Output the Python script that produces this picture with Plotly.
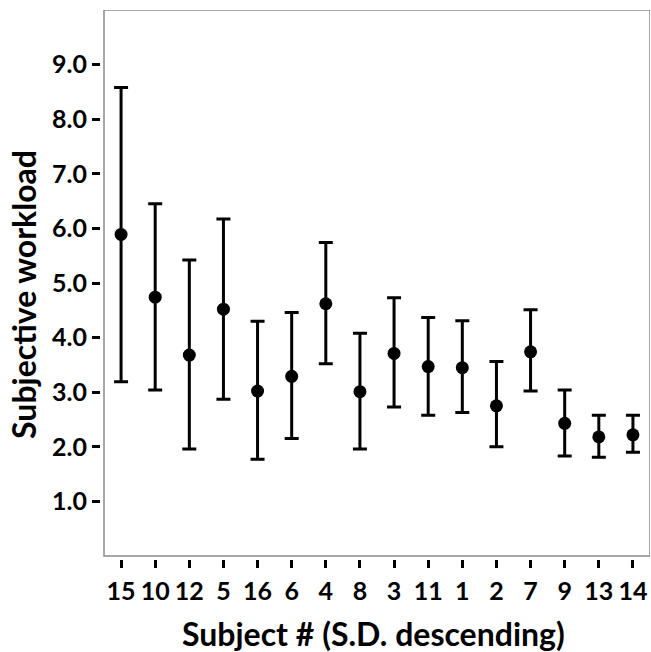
import plotly.graph_objects as go

# Subjects ordered by standard deviation (descending)
subjects = ['15', '10', '12', '5', '16', '6', '4', '8', '3', '11', '1', '2', '7', '9', '13', '14']
mean_workload = [5.89, 4.74, 3.68, 4.52, 3.02, 3.29, 4.62, 3.01, 3.71, 3.47, 3.45, 2.75, 3.74, 2.43, 2.18, 2.22]
upper_bound = [8.58, 6.45, 5.42, 6.17, 4.30, 4.46, 5.74, 4.08, 4.73, 4.37, 4.31, 3.56, 4.51, 3.04, 2.58, 2.58]
lower_bound = [3.19, 3.04, 1.96, 2.87, 1.77, 2.15, 3.52, 1.96, 2.73, 2.58, 2.63, 2.00, 3.02, 1.83, 1.81, 1.90]
y_ticks = [1, 2, 3, 4, 5, 6, 7, 8, 9]

x_pos = list(range(len(subjects)))
err_plus = [u - m for u, m in zip(upper_bound, mean_workload)]
err_minus = [m - l for m, l in zip(mean_workload, lower_bound)]

FONT = 'Lato'

fig = go.Figure()
fig.add_trace(go.Scatter(
    x=x_pos,
    y=mean_workload,
    mode='markers',
    marker=dict(color='black', size=13),
    error_y=dict(
        type='data',
        symmetric=False,
        array=err_plus,
        arrayminus=err_minus,
        color='black',
        thickness=3,
        width=7,
    ),
    showlegend=False,
))

# Grey frame around the data area; ticks sit just outside it
fig.add_shape(
    type='rect', xref='x', yref='y',
    x0=-0.5, x1=15.5, y0=0, y1=10,
    line=dict(color='#8a8a8a', width=1.5),
    layer='below',
)

tick_font = dict(family=FONT, size=25, color='black', weight='bold')
title_font = dict(family=FONT, size=32, color='black', weight='bold')

# Axis titles
fig.add_annotation(
    text='Subject # (S.D. descending)',
    xref='paper', yref='paper', x=0.497, y=0,
    xanchor='center', yanchor='middle', yshift=-74,
    showarrow=False, font=title_font,
)
fig.add_annotation(
    text='Subjective workload',
    xref='paper', yref='paper', x=0, y=0.481,
    xanchor='center', yanchor='middle', xshift=-77,
    textangle=-90, showarrow=False, font=title_font,
)

fig.update_layout(
    width=651,
    height=652,
    margin=dict(l=101, r=1, t=10, b=93),
    paper_bgcolor='white',
    plot_bgcolor='white',
    xaxis=dict(
        range=[-0.588, 15.5],
        tickmode='array',
        tickvals=x_pos,
        ticktext=subjects,
        ticks='outside',
        ticklen=8,
        tickwidth=2.5,
        tickcolor='black',
        showgrid=False,
        zeroline=False,
        showline=False,
        tickfont=tick_font,
        ticklabelstandoff=2,
    ),
    yaxis=dict(
        range=[-0.055, 10],
        tickmode='array',
        tickvals=y_ticks,
        ticktext=[f'{v:.1f}' for v in y_ticks],
        ticks='outside',
        ticklen=8,
        tickwidth=2.5,
        tickcolor='black',
        showgrid=False,
        zeroline=False,
        showline=False,
        tickfont=tick_font,
    ),
)

fig.write_html('out.html')
